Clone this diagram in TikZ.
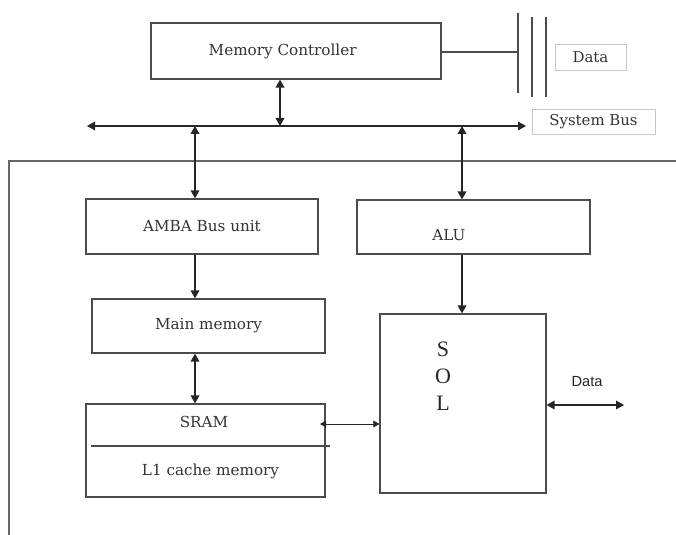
\documentclass[tikz,border=0pt]{standalone}
\usepackage{fontspec}
\setmainfont{DejaVu Serif}
\newfontfamily\portsans{Liberation Sans}
\newfontfamily\solserif{Liberation Serif}
\usetikzlibrary{arrows.meta, calc}
\tikzset{
	unitbox/.style={rectangle, draw=black!70, line width=0.9pt, inner sep=0pt,
		align=center, font=\fontsize{11.4}{13}\selectfont, text=black!80},
	tagbox/.style={rectangle, draw=black!22, line width=0.6pt, inner sep=0pt,
		align=center, font=\fontsize{11.2}{13}\selectfont, text=black!80},
	boxtext/.style={font=\fontsize{11.4}{13}\selectfont, text=black!80},
	arrow/.style={-{Triangle[length=6pt,width=6.5pt]}, line width=1pt, draw=black!85},
	dblarrow/.style={{Triangle[length=6pt,width=6.5pt]}-{Triangle[length=6pt,width=6.5pt]}, line width=1pt, draw=black!85},
	thinarrow/.style={{Triangle[length=4.5pt,width=5pt]}-{Triangle[length=4.5pt,width=5pt]}, line width=0.5pt, draw=black!85},
	plainline/.style={line width=0.9pt, draw=black!70},
}

\begin{document}
\begin{tikzpicture}[x=0.75pt, y=-0.75pt]
	\useasboundingbox (0,0) rectangle (676,535);
	% top: controller, data lines and system bus
	\node[unitbox, minimum width=217.5pt, minimum height=42pt,
		label={[boxtext, xshift=-10pt]center:Memory Controller}] (mc) at (296,51) {};
	\node[tagbox, minimum width=53.25pt, minimum height=19.5pt] (databox) at (590.5,57) {Data};
	\node[tagbox, minimum width=92.25pt, minimum height=18.75pt] (busbox) at (593.5,121.5) {System Bus};
	\coordinate (bar1) at (518,52);
	\draw[plainline] (518,13) -- (518,93);
	\draw[plainline] (532,17) -- (532,97);
	\draw[plainline] (546,17) -- (546,97);
	\draw[plainline] (mc.east |- bar1) -- (bar1);
	\coordinate (busL) at (87,126);
	\coordinate (busR) at (526,126);
	\coordinate (tapmc) at (280,126);
	\coordinate (tapa) at (195,126);
	\coordinate (tapb) at (462,126);
	\draw[dblarrow] (busL) -- (busR);
	\draw[dblarrow] (mc.south -| tapmc) -- (tapmc);
	% chip outline
	\draw[line width=0.9pt, draw=black!60] (676,161) -- (9,161) -- (9,535);
	% units
	\node[unitbox, minimum width=174pt, minimum height=41.25pt] (amba) at (202,226.5) {AMBA Bus unit};
	\node[unitbox, minimum width=174.75pt, minimum height=40.5pt,
		label={[boxtext, xshift=-18.4pt, yshift=-6pt]center:ALU}] (alu) at (473.5,227) {};
	\node[unitbox, minimum width=174.75pt, minimum height=40.5pt] (main) at (208.5,326) {Main memory};
	\node[unitbox, minimum width=179.25pt, minimum height=69.75pt] (cache) at (205.5,450.5) {};
	\node[boxtext] (sramtxt) at (204,422) {SRAM};
	\node[boxtext] (l1txt) at (210.5,471) {L1 cache memory};
	\draw[plainline] (91,446) -- (330,446);
	\node[unitbox, minimum width=124.5pt, minimum height=134.25pt] (sol) at (463,403.5) {};
	\node[font=\solserif\fontsize{16.5}{20.25}\selectfont, text=black!85, align=center] (soltxt) at (443,376) {S\\O\\L};
	% connections
	\draw[dblarrow] (tapa) -- (amba.north -| tapa);
	\draw[dblarrow] (tapb) -- (alu.north -| tapb);
	\draw[arrow] (amba.south -| tapa) -- (main.north -| tapa);
	\draw[dblarrow] (main.south -| tapa) -- (cache.north -| tapa);
	\draw[arrow] (alu.south -| tapb) -- (sol.north -| tapb);
	\coordinate (sramport) at (320,424);
	\draw[thinarrow] (sramport) -- (sramport -| sol.west);
	\coordinate (dataout) at (624,405);
	\draw[dblarrow] (dataout -| sol.east) -- (dataout);
	\node[font=\portsans\fontsize{11}{13}\selectfont, text=black!85] (datatxt) at (587,382) {Data};
\end{tikzpicture}
\end{document}
